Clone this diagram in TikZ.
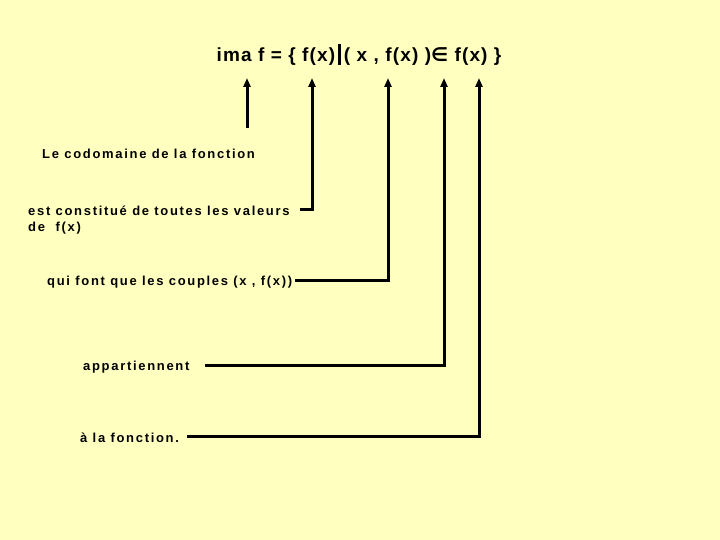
\documentclass[tikz,border=0pt]{standalone}
\usepackage{fontspec}
\setmainfont{Liberation Sans}
\newfontfamily\dejavu{DejaVu Sans}
\newfontfamily\labfont[LetterSpace=13]{Liberation Sans}
\newfontfamily\titfont[LetterSpace=6]{Liberation Sans}
\usetikzlibrary{arrows.meta}
\definecolor{fond}{HTML}{FFFFC0}
\tikzset{
  lab/.style={anchor=west, inner sep=0pt, font=\labfont\bfseries\fontsize{13}{15}\selectfont},
  fleche/.style={line width=3pt, -{Triangle[length=9pt,width=7pt]}},
}

\begin{document}
\begin{tikzpicture}[x=1pt,y=-1pt]
  \fill[fond] (0,0) rectangle (720,540);
  % la definition
  \node[font=\titfont\bfseries\fontsize{19}{21}\selectfont] (titre) at (359,55)
      {ima f = \{ f(x)\,\rule[-4pt]{2.5pt}{21pt}\,( x , f(x) ){\dejavu ∈} f(x) \}};
  % les pointes sous la definition
  \coordinate (p1) at (247,78);
  \coordinate (p2) at (312,78);
  \coordinate (p3) at (388,78);
  \coordinate (p4) at (444,78);
  \coordinate (p5) at (479,78);
  \coordinate (b1) at (247,128);
  % les phrases
  \node[lab] (codom) at (42,154) {Le codomaine de la fonction};
  \node[lab] (valeurs) at (28,211) {est constitué de toutes les valeurs};
  \node[lab] (defx) at (28,228) {de\ \ f(x)};
  \node[lab] (couples) at (47,282) {qui font que les couples (x , f(x))};
  \node[lab] (appart) at (83,367) {appartiennent};
  \node[lab] (fonc) at (80,438) {à la fonction.};
  % les liens
  \draw[fleche] (b1) -- (p1);
  \draw[fleche] ([xshift=10pt,yshift=1pt]valeurs.east) -| (p2);
  \draw[fleche] ([xshift=3pt,yshift=2pt]couples.east) -| (p3);
  \draw[fleche] ([xshift=15pt,yshift=2pt]appart.east) -| (p4);
  \draw[fleche] ([xshift=8pt,yshift=2pt]fonc.east) -| (p5);
\end{tikzpicture}
\end{document}
